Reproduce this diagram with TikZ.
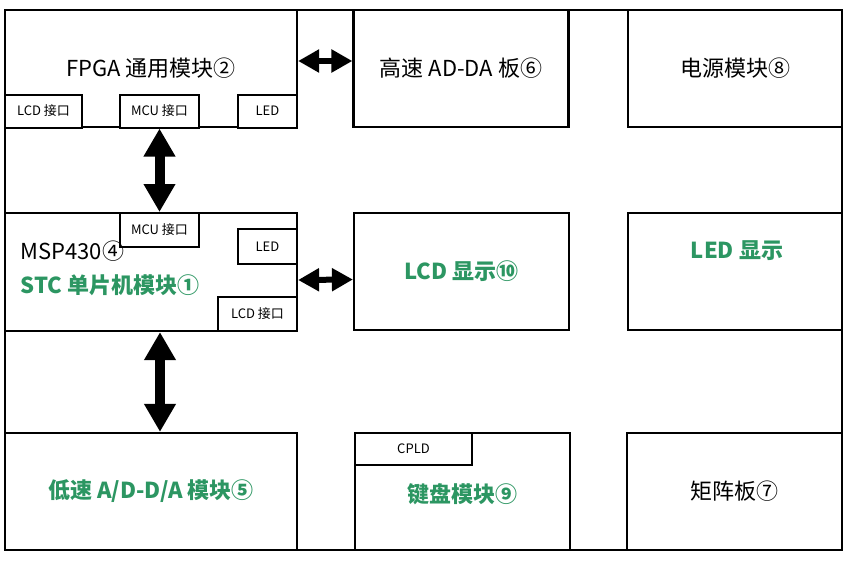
\documentclass[tikz,border=0pt]{standalone}
\usepackage{fontspec}
\setmainfont{Noto Sans CJK SC}
\usetikzlibrary{arrows.meta}
\definecolor{lblgreen}{RGB}{44,150,98}
\tikzset{
  box/.style={draw=black, line width=2.2pt, rectangle, inner sep=0pt, fill=white},
  sub/.style={draw=black, line width=2pt, rectangle, inner sep=0pt, fill=white, font=\fontsize{13}{15}\selectfont},
  big/.style={font=\fontsize{22}{26}\selectfont, text=black},
  grn/.style={font=\fontsize{22}{26}\selectfont\bfseries, text=lblgreen},
  vbig/.style={line width=10pt, {Triangle[length=28pt,width=30pt]}-{Triangle[length=28pt,width=30pt]}},
  hsmall/.style={line width=6pt, {Triangle[length=21pt,width=22pt]}-{Triangle[length=21pt,width=22pt]}}
}
\begin{document}
\begin{tikzpicture}[x=1pt,y=-1pt]
\useasboundingbox (0,0) rectangle (849,560);
\draw[line width=2.2pt] (5,10) rectangle (842,550);
% row 1
\node[box, big, minimum width=292pt, minimum height=117pt] (fpga) at (151,68.5) {FPGA 通用模块②};
\node[box, big, minimum width=215pt, minimum height=117pt] (adda) at (461,68.5) {高速 AD-DA 板⑥};
\node[box, big, minimum width=214pt, minimum height=117pt] (power) at (735,68.5) {电源模块⑧};
\node[sub, minimum width=77pt, minimum height=33pt] (fpgalcd) at (43.5,111) {LCD 接口};
\node[sub, minimum width=79pt, minimum height=33pt] (fpgamcu) at (159.5,111) {MCU 接口};
\node[sub, minimum width=59pt, minimum height=33pt] (fpgaled) at (267.5,111) {LED};
% row 2
\node[box, minimum width=292pt, minimum height=118pt] (msp) at (151,272) {};
\node[box, grn, minimum width=215pt, minimum height=117pt] (lcd) at (461.5,271.5) {LCD 显示⑩};
\node[box, minimum width=214pt, minimum height=117pt] (led) at (735,271.5) {};
\node[grn] (ledtxt) at (737,251) {LED 显示};
\node[sub, minimum width=79pt, minimum height=34pt] (mspmcu) at (159.5,230) {MCU 接口};
\node[sub, minimum width=59pt, minimum height=35pt] (mspled) at (267.5,246.5) {LED};
\node[sub, minimum width=79pt, minimum height=34pt] (msplcd) at (257.5,314) {LCD 接口};
\node[big, anchor=west] (msptxt) at (17,251) {MSP430④};
\node[grn, anchor=west] (stctxt) at (17,285) {STC 单片机模块①};
% row 3
\node[box, grn, minimum width=292pt, minimum height=117pt] (low) at (151,491.5) {低速 A/D-D/A 模块⑤};
\node[box, grn, minimum width=215pt, minimum height=117pt] (kbd) at (462.5,491.5) {};
\node[grn] (kbdtxt) at (462,494) {键盘模块⑨};
\node[box, big, minimum width=215pt, minimum height=117pt] (matrix) at (734.5,491.5) {矩阵板⑦};
\node[sub, minimum width=117pt, minimum height=32pt] (cpld) at (413.5,449) {CPLD};
% arrows
\draw[hsmall] ([yshift=7.5pt]fpga.east) -- ([yshift=7.5pt]adda.west);
\draw[hsmall] ([yshift=-8pt]msp.east) -- ([yshift=-8pt]lcd.west);
\draw[vbig] (fpgamcu.south) -- (mspmcu.north);
\draw[vbig] ([xshift=9pt]msp.south) -- ([xshift=9pt]low.north);
\end{tikzpicture}
\end{document}
